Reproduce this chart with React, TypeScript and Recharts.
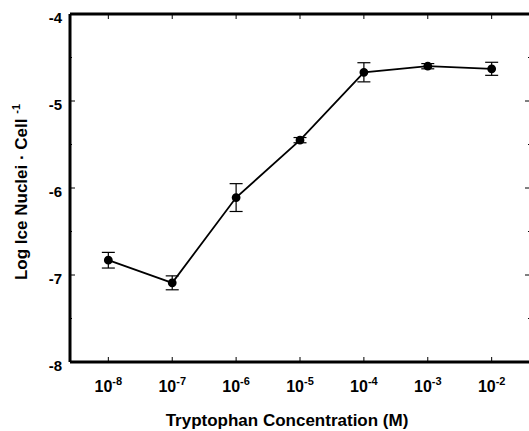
import { ErrorBar, Line, LineChart, XAxis, YAxis } from 'recharts';

// log10 of tryptophan concentration (M)
const concExp = [-8, -7, -6, -5, -4, -3, -2];
const logNuclei = [-6.83, -7.09, -6.11, -5.45, -4.67, -4.6, -4.63];
const errors = [0.09, 0.08, 0.16, 0.03, 0.11, 0.03, 0.075];
// major ticks are labelled, half steps are minor ticks
const yTicks = [-8, -7.5, -7, -6.5, -6, -5.5, -5, -4.5, -4];

const data = concExp.map((x, i) => ({ x, y: logNuclei[i], err: errors[i] }));

const FONT = '"Liberation Sans", Arial, sans-serif';
const AXIS = { stroke: '#000', strokeWidth: 3 };

const XTick = ({ x, y, payload }: any) => (
  <g>
    <line x1={x} y1={y} x2={x} y2={y - 5} stroke="#000" strokeWidth={1} />
    <text x={x} y={y + 30} textAnchor="middle" fontFamily={FONT} fontWeight="bold" fontSize={16} fill="#000">
      <tspan>10</tspan>
      <tspan dy={-7} fontSize={11}>{payload.value}</tspan>
    </text>
  </g>
);

const TopTick = ({ x, y }: any) => <line x1={x} y1={y} x2={x} y2={y + 5} stroke="#000" strokeWidth={1} />;

const YTick = ({ x, y, payload }: any) => {
  const major = Number.isInteger(payload.value);
  return (
    <g>
      <line x1={x} y1={y} x2={x + (major ? 5 : 2)} y2={y} stroke="#000" strokeWidth={1} />
      {major && (
        <text x={x - 8} y={y + 9} textAnchor="end" fontFamily={FONT} fontWeight="bold" fontSize={15} fill="#000">
          {payload.value}
        </text>
      )}
    </g>
  );
};

const RightTick = ({ x, y, payload }: any) => {
  const major = Number.isInteger(payload.value);
  return <line x1={x} y1={y} x2={x - (major ? 5 : 2)} y2={y} stroke="#000" strokeWidth={1} />;
};

const XTitle = () => (
  <text x={287} y={426} textAnchor="middle" fontFamily={FONT} fontWeight="bold" fontSize={17} fill="#000">
    Tryptophan  Concentration (M)
  </text>
);

const YTitle = () => (
  <text
    x={0}
    y={0}
    transform="translate(27,192) rotate(-90)"
    textAnchor="middle"
    fontFamily={FONT}
    fontWeight="bold"
    fontSize={17}
    fill="#000"
  >
    <tspan>Log Ice Nuclei · Cell </tspan>
    <tspan dy={-7} fontSize={11}>-1</tspan>
  </text>
);

export default function App() {
  return (
    <div style={{ position: 'absolute', left: 0, top: 0, background: '#fff' }}>
      <LineChart width={545} height={431} data={data} margin={{ top: 13, right: 5, bottom: 19, left: 30 }}>
        <XAxis
          dataKey="x"
          type="number"
          domain={[-8.6, -1.4]}
          ticks={concExp}
          interval={0}
          height={50}
          stroke="#000"
          axisLine={AXIS}
          tickLine={false}
          tickSize={0}
          tickMargin={0}
          tick={<XTick />}
          label={<XTitle />}
        />
        <XAxis
          xAxisId="top"
          orientation="top"
          dataKey="x"
          type="number"
          domain={[-8.6, -1.4]}
          ticks={concExp}
          interval={0}
          height={1}
          stroke="#000"
          axisLine={AXIS}
          tickLine={false}
          tickSize={0}
          tickMargin={0}
          tick={<TopTick />}
        />
        <YAxis
          type="number"
          domain={[-8, -4]}
          ticks={yTicks}
          interval={0}
          width={40}
          stroke="#000"
          axisLine={AXIS}
          tickLine={false}
          tickSize={0}
          tickMargin={0}
          tick={<YTick />}
          label={<YTitle />}
        />
        <YAxis
          yAxisId="right"
          orientation="right"
          type="number"
          domain={[-8, -4]}
          ticks={yTicks}
          interval={0}
          width={10}
          axisLine={false}
          tickLine={false}
          tickSize={0}
          tickMargin={0}
          tick={<RightTick />}
        />
        <Line
          xAxisId="top"
          yAxisId="right"
          dataKey="y"
          stroke="none"
          dot={false}
          activeDot={false}
          legendType="none"
          isAnimationActive={false}
        />
        <Line
          dataKey="y"
          stroke="#000"
          strokeWidth={1.8}
          dot={{ r: 3.5, fill: '#000', stroke: '#000' }}
          isAnimationActive={false}
        >
          <ErrorBar dataKey="err" width={6.5} stroke="#000" strokeWidth={1.2} direction="y" />
        </Line>
      </LineChart>
    </div>
  );
}
